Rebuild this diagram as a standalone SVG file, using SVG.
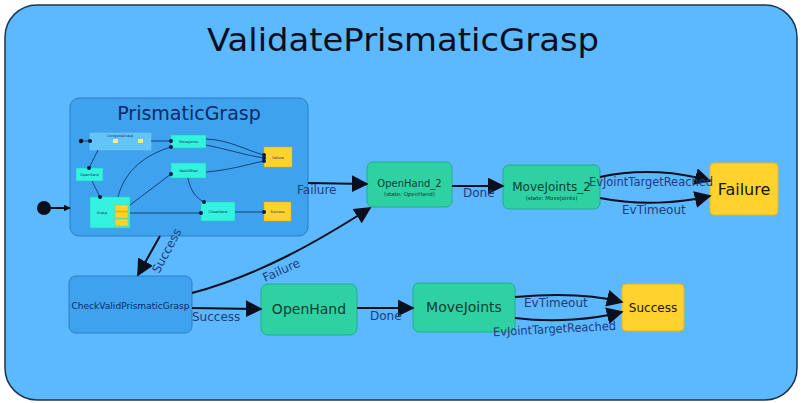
<svg xmlns="http://www.w3.org/2000/svg" width="803" height="403" viewBox="0 0 803 403">
<defs>
<marker id="ah" viewBox="0 0 10 10" refX="9" refY="5" markerWidth="7" markerHeight="7" markerUnits="userSpaceOnUse" orient="auto"><path d="M0,0 L10,5 L0,10 z" fill="#0a0f1e"/></marker>
<marker id="ahb" viewBox="0 0 10 10" refX="9" refY="5" markerWidth="17" markerHeight="17" markerUnits="userSpaceOnUse" orient="auto"><path d="M0,0 L10,5 L0,10 z" fill="#0a0f1e"/></marker>
<marker id="dot" viewBox="0 0 10 10" refX="5" refY="5" markerWidth="4" markerHeight="4" markerUnits="userSpaceOnUse"><circle cx="5" cy="5" r="5" fill="#0a1a40"/></marker>
<style>
.t{font-family:"DejaVu Sans",Verdana,sans-serif;}
.lbl{font-family:"DejaVu Sans",Verdana,sans-serif;font-size:12px;fill:#1f3d7a;}
.edge{fill:none;stroke:#0a0f1e;stroke-width:2;marker-end:url(#ahb);}
.ie{fill:none;stroke:#0a2a60;stroke-width:0.8;marker-end:url(#dot);}
.green{fill:#2ed2a2;stroke:#1fae86;stroke-width:1;}
.yellow{fill:#ffd22e;stroke:#e6b620;stroke-width:1;}
.cont{fill:#3ea2ee;stroke:#2a7fc4;stroke-width:1;}
.cyan{fill:#33f2de;stroke:#22c8b8;stroke-width:0.6;}
.iy{fill:#ffd22e;stroke:#d8a818;stroke-width:0.5;}
.it{font-family:"DejaVu Sans",sans-serif;font-size:3.5px;fill:#143060;}
</style>
</defs>
<rect x="5" y="5" width="792" height="395" rx="32" fill="#5cb8ff" stroke="#1b3550" stroke-width="1.5"/>
<text class="t" x="403" y="51" font-size="32" text-anchor="middle" fill="#0a0f1e" textLength="392" lengthAdjust="spacingAndGlyphs">ValidatePrismaticGrasp</text>

<g id="init"><circle cx="44" cy="208" r="7" fill="#0a0f1e"/></g>

<g id="PrismaticGrasp">
<rect class="cont" x="70" y="98" width="238" height="138" rx="9"/>
<text class="t" x="189" y="120" font-size="19" text-anchor="middle" fill="#0e2a64">PrismaticGrasp</text>
<g id="inner">
<rect x="90" y="133" width="61" height="17" fill="#66c8f8" stroke="#88d8ff" stroke-width="0.5" opacity="0.9"/>
<text class="it" x="120" y="137" text-anchor="middle" font-size="2.5">ComputeGrasp</text>
<rect x="113" y="139" width="5" height="4" fill="#eef08a"/>
<rect x="138" y="139" width="5" height="4" fill="#eef08a"/>
<circle cx="81" cy="141" r="2.2" fill="#0a0f1e"/>
<rect class="cyan" x="171" y="135" width="35" height="13"/><text class="it" x="188.5" y="143" text-anchor="middle">MoveJoints</text>
<rect class="iy" x="264" y="147" width="28" height="20"/><text class="it" x="278" y="158.5" text-anchor="middle" font-size="4.5">Failure</text>
<rect class="cyan" x="76" y="168" width="27" height="13"/><text class="it" x="89.5" y="176" text-anchor="middle">OpenHand</text>
<rect class="cyan" x="171" y="163" width="35" height="15"/><text class="it" x="188.5" y="172" text-anchor="middle">NextOffset</text>
<rect class="cyan" x="90" y="197" width="40" height="31"/><text class="it" x="102" y="214" text-anchor="middle">Grasp</text>
<rect class="iy" x="115" y="205" width="13" height="6"/><rect class="iy" x="115" y="212" width="13" height="6"/><rect class="iy" x="115" y="219" width="13" height="7"/>
<rect class="cyan" x="201" y="202" width="34" height="19"/><text class="it" x="218" y="213" text-anchor="middle">CloseHand</text>
<rect class="iy" x="264" y="202" width="27" height="19"/><text class="it" x="277.5" y="213" text-anchor="middle" font-size="4">Success</text>
<path class="ie" d="M83,141 L90,141"/>
<path class="ie" d="M151,141 L171,141"/>
<path class="ie" d="M98,150 L89,168"/>
<path class="ie" d="M92,181 L100,197"/>
<path class="ie" d="M118,197 C125,170 145,155 171,147"/>
<path class="ie" d="M130,205 L171,174"/>
<path class="ie" d="M188,178 C190,190 196,198 204,202"/>
<path class="ie" d="M130,213 L201,213"/>
<path class="ie" d="M235,212 L264,212"/>
<path class="ie" d="M206,139 C230,140 245,150 264,155"/>
<path class="ie" d="M206,145 C230,150 245,155 264,158"/>
<path class="ie" d="M206,172 C230,170 245,165 264,161"/>
</g>
</g>

<g id="OpenHand_2">
<rect class="green" x="367" y="162" width="85" height="45" rx="6"/>
<text class="t" x="409.5" y="187" font-size="10" text-anchor="middle" fill="#0e3a30">OpenHand_2</text>
<text class="t" x="409.5" y="196" font-size="5.5" text-anchor="middle" fill="#0e3a30">(state: OpenHand)</text>
</g>
<g id="MoveJoints_2">
<rect class="green" x="503" y="165" width="97" height="44" rx="6"/>
<text class="t" x="551.5" y="191" font-size="12" text-anchor="middle" fill="#0e3a30">MoveJoints_2</text>
<text class="t" x="551.5" y="200" font-size="5.5" text-anchor="middle" fill="#0e3a30">(state: MoveJoints)</text>
</g>
<g id="Failure">
<rect class="yellow" x="710" y="163" width="68" height="52" rx="4"/>
<text class="t" x="744" y="195" font-size="16" text-anchor="middle" fill="#1a1408">Failure</text>
</g>
<g id="CheckValidPrismaticGrasp">
<rect class="cont" x="69" y="276" width="123" height="57" rx="7"/>
<text class="t" x="130.5" y="309" font-size="9" text-anchor="middle" fill="#0e2a64" textLength="118" lengthAdjust="spacingAndGlyphs">CheckValidPrismaticGrasp</text>
</g>
<g id="OpenHand">
<rect class="green" x="261" y="284" width="96" height="51" rx="7"/>
<text class="t" x="309" y="314" font-size="14" text-anchor="middle" fill="#0e3a30">OpenHand</text>
</g>
<g id="MoveJoints">
<rect class="green" x="413" y="283" width="102" height="49" rx="6"/>
<text class="t" x="464" y="312" font-size="14" text-anchor="middle" fill="#0e3a30">MoveJoints</text>
</g>
<g id="Success">
<rect class="yellow" x="622" y="284" width="62" height="47" rx="4"/>
<text class="t" x="653" y="312" font-size="12" text-anchor="middle" fill="#1a1408">Success</text>
</g>

<g id="connectors">
<path d="M51,208 L70,208" fill="none" stroke="#0a0f1e" stroke-width="2" marker-end="url(#ah)"/>
<path class="edge" d="M308,183 L367,184"/>
<text class="lbl" x="297" y="194">Failure</text>
<path class="edge" d="M452,186 L503,186"/>
<text class="lbl" x="463" y="197">Done</text>
<path class="edge" d="M600,177 C640,168 680,172 710,181"/>
<text class="lbl" x="589" y="186" textLength="124" lengthAdjust="spacingAndGlyphs">EvJointTargetReached</text>
<path class="edge" d="M600,198 C640,206 680,203 710,196"/>
<text class="lbl" x="622" y="214">EvTimeout</text>
<path class="edge" d="M160,236 L138,275"/>
<text class="lbl" transform="translate(159,274) rotate(-62)">Success</text>
<path class="edge" d="M192,293 C260,275 320,240 370,208"/>
<text class="lbl" transform="translate(265,282) rotate(-24)">Failure</text>
<path class="edge" d="M192,308 L261,309"/>
<text class="lbl" x="192" y="321">Success</text>
<path class="edge" d="M357,308 L413,308"/>
<text class="lbl" x="370" y="320">Done</text>
<path class="edge" d="M515,297 C560,293 595,295 622,302"/>
<text class="lbl" x="524" y="307">EvTimeout</text>
<path class="edge" d="M515,318 C555,323 595,319 622,312"/>
<text class="lbl" x="493" y="333" transform="rotate(-3 555 329)" textLength="123" lengthAdjust="spacingAndGlyphs">EvJointTargetReached</text>
</g>
</svg>
